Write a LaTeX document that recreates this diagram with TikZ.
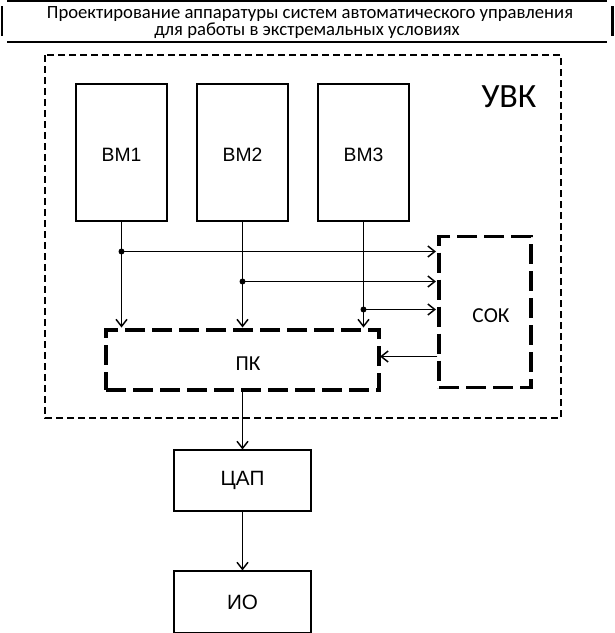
\documentclass[tikz,border=0pt]{standalone}
\usepackage{fontspec}
\setmainfont{Liberation Sans}
\newfontfamily\carlitofont{Carlito}
\usetikzlibrary{arrows.meta}
\begin{document}
\begin{tikzpicture}[x=0.75pt,y=-0.75pt,
  box/.style={draw,line width=0.8pt,inner sep=0pt},
  thickdash/.style={draw,line width=2.3pt,dash pattern=on 15pt off 5.25pt,inner sep=0pt},
  thindash/.style={draw,line width=1pt,dash pattern=on 5.25pt off 3pt},
  conn/.style={line width=1.1pt,-{Straight Barb[length=5.25pt,width=8.25pt,line width=1.1pt]}},
  dot/.style={circle,fill,inner sep=0pt,minimum size=4.5pt},
  lbl/.style={font=\fontsize{14.5}{16}\selectfont},
  clbl/.style={font=\carlitofont\fontsize{16}{18}\selectfont},
  ttl/.style={anchor=base,inner sep=0pt,font=\carlitofont\fontsize{14}{14}\selectfont}]
\useasboundingbox (0,0) rectangle (615,633);
% title
\node (title1) at (310,18.5) [ttl] {Проектирование аппаратуры систем автоматического управления};
\node (title2) at (307,35) [ttl] {для работы в экстремальных условиях};
\begin{scope}[line width=2pt]
\draw (7,1) -- (607,1);
\draw (7,42) -- (607,42);
\draw (2,6) -- (2,36);
\draw (612.5,6) -- (612.5,36);
\end{scope}
% UVK frame
\draw[thindash] (45,55) rectangle (561,418);
\node (uvk) at (509,97) [font=\carlitofont\fontsize{25.5}{28}\selectfont] {УВК};
% BM boxes
\node (bm1) [box,minimum width=68.25pt,minimum height=102.75pt] at (121.5,152.5) {};
\node (bm2) [box,minimum width=68.25pt,minimum height=102.75pt] at (242.5,152.5) {};
\node (bm3) [box,minimum width=68.25pt,minimum height=102.75pt] at (363.5,152.5) {};
\node[lbl] at (121.5,155) {ВМ1};
\node[lbl] at (242.5,155) {ВМ2};
\node[lbl] at (363.5,155) {ВМ3};
% PK, SOK
\node (pk) [thickdash,minimum width=204.75pt,minimum height=45pt] at (242.5,360) {};
\node[clbl] at (248,364) {ПК};
\node (sok) [thickdash,minimum width=69pt,minimum height=113.25pt] at (485,312) {};
\node[clbl] at (491,316) {СОК};
% DAC, IO
\node (cap) [box,minimum width=102.75pt,minimum height=45.75pt,font=\fontsize{15.5}{17}\selectfont] at (242.5,480.5) {ЦАП};
\node (io) [box,minimum width=102.75pt,minimum height=46.5pt,font=\fontsize{15.5}{17}\selectfont] at (242.5,602) {ИО};
% junctions
\node (j1) [dot] at (121.5,251.5) {};
\node (j2) [dot] at (242.5,281.5) {};
\node (j3) [dot] at (363.5,309.5) {};
% connectors
\draw[conn] (bm1.south) -- (121.5,327.5);
\draw[conn] (bm2.south) -- (242.5,327.5);
\draw[conn] (bm3.south) -- (363.5,327.5);
\draw[conn] (j1.center) -- (436,251.5);
\draw[conn] (j2.center) -- (436,281.5);
\draw[conn] (j3.center) -- (436,309.5);
\draw[conn] (sok.west |- 0,356.5) -- (380,356.5);
\draw[conn] (pk.south) -- (cap.north);
\draw[conn] (cap.south) -- (io.north);
\end{tikzpicture}
\end{document}
